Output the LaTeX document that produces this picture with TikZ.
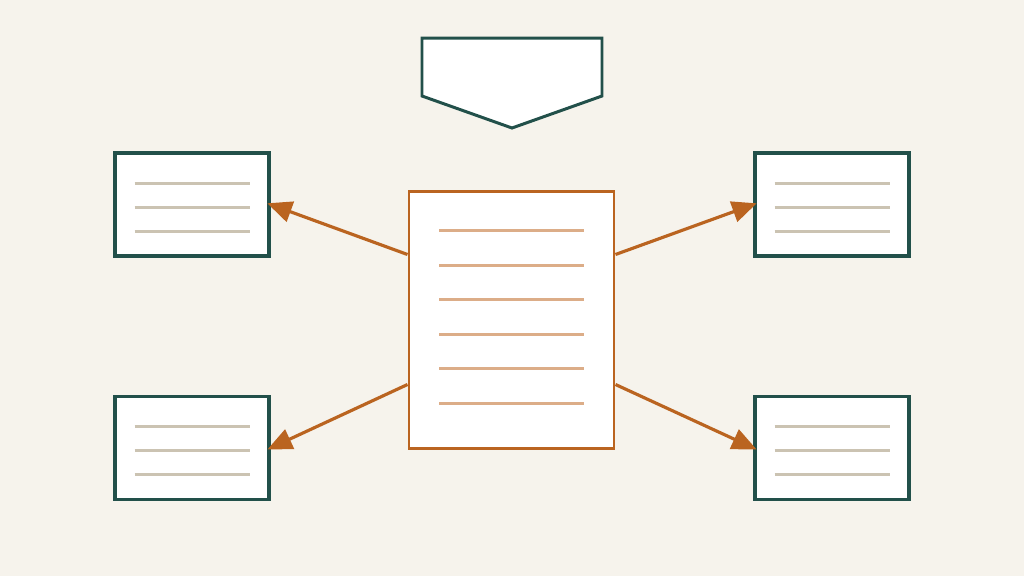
\documentclass[tikz,border=0pt]{standalone}
\usepackage{tikz}
\usetikzlibrary{arrows.meta,calc}
\definecolor{bgcol}{HTML}{F6F3EC}
\definecolor{teal}{HTML}{22504A}
\definecolor{rust}{HTML}{BA6420}
\definecolor{sand}{HTML}{CBC3B2}
\definecolor{peach}{HTML}{DCAD88}
\begin{document}
\begin{tikzpicture}[
    smallbox/.style={draw=teal, fill=white, line width=0.9pt, inner sep=0pt, minimum width=1.54cm, minimum height=1.03cm},
    docbox/.style={draw=rust, fill=white, line width=0.85pt, inner sep=0pt, minimum width=2.05cm, minimum height=2.57cm},
    rule/.style={draw=sand, line width=0.85pt},
    docrule/.style={draw=peach, line width=0.85pt},
    link/.style={draw=rust, line width=0.9pt, shorten >=-1pt, -{Triangle[length=7pt,width=6pt]}}]
    \fill[bgcol] (0,0) rectangle (10.24,5.76);
    \useasboundingbox (0,0) rectangle (10.24,5.76);
    % top pentagon
    \draw[teal, fill=white, line width=0.85pt] (4.22,5.38) -- (6.02,5.38) -- (6.02,4.80) -- (5.12,4.48) -- (4.22,4.80) -- cycle;
    \node[docbox] (doc) at (5.115, 2.565) {};
    \node[smallbox] (lt) at (1.92, 3.715) {};
    \node[smallbox] (lb) at (1.92, 1.28) {};
    \node[smallbox] (rt) at (8.32, 3.715) {};
    \node[smallbox] (rb) at (8.32, 1.28) {};
    \foreach \b in {lt,lb,rt,rb}
      \foreach \y in {0.215,-0.025,-0.265}
        \draw[rule] ($(\b.center)+(-0.575,\y)$) -- ($(\b.center)+(0.575,\y)$);
    \foreach \y in {0.895,0.545,0.205,-0.145,-0.485,-0.835}
      \draw[docrule] ($(doc.center)+(-0.725,\y)$) -- ($(doc.center)+(0.725,\y)$);
    \coordinate (wa) at ($(doc.north west)!0.25!(doc.south west)$);
    \coordinate (wb) at ($(doc.north west)!0.75!(doc.south west)$);
    \coordinate (ea) at ($(doc.north east)!0.25!(doc.south east)$);
    \coordinate (eb) at ($(doc.north east)!0.75!(doc.south east)$);
    \draw [link] (wa) to (lt.east);
    \draw [link] (wb) to (lb.east);
    \draw [link] (ea) to (rt.west);
    \draw [link] (eb) to (rb.west);
  \end{tikzpicture}
\end{document}
